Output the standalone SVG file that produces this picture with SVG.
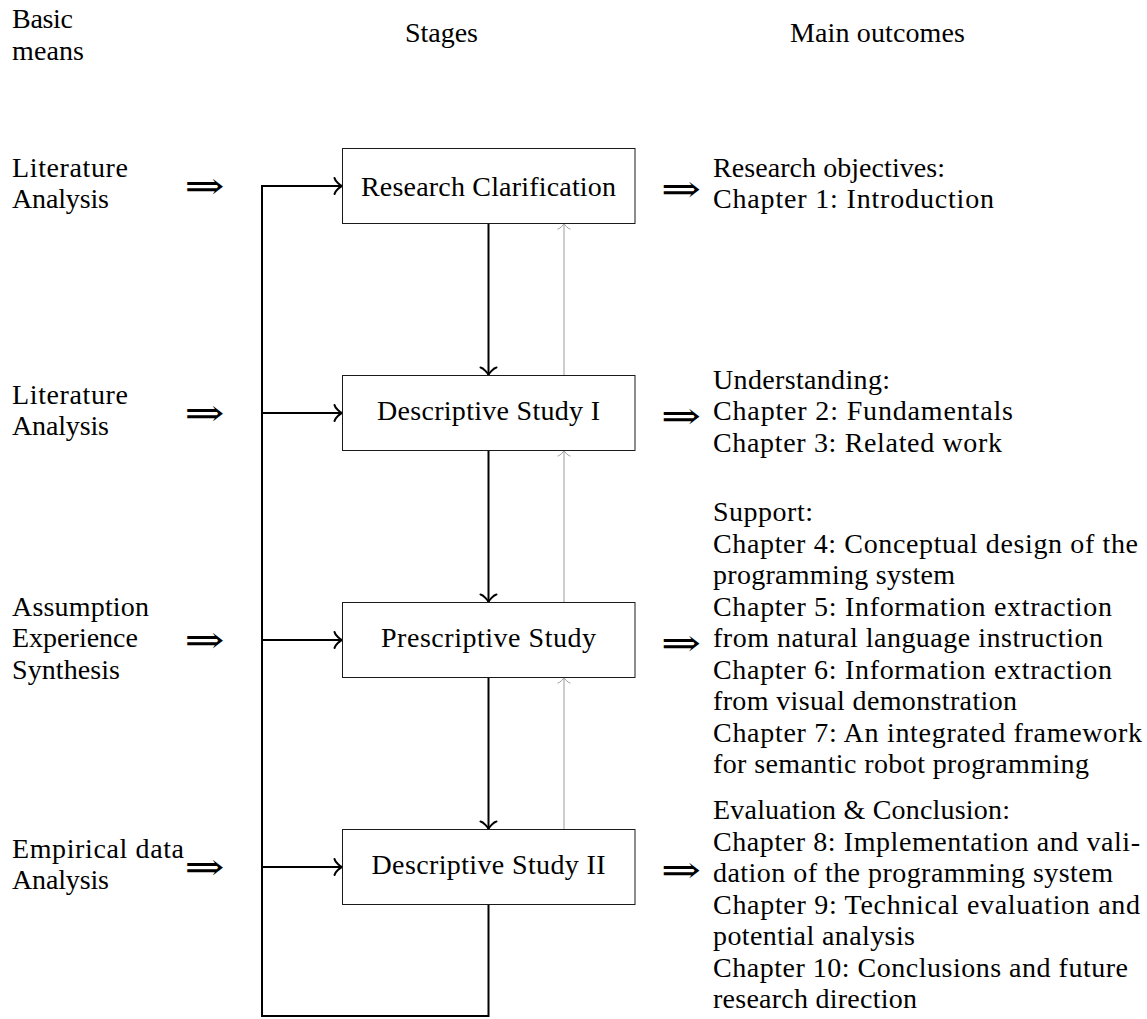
<svg xmlns="http://www.w3.org/2000/svg" width="1147" height="1019" viewBox="0 0 1147 1019">
  <defs>
    <!-- curved "to" arrowheads -->
    <marker id="to" viewBox="-8 -10 11 20" markerWidth="11" markerHeight="20" refX="1.5" refY="0" orient="auto" markerUnits="userSpaceOnUse" overflow="visible">
      <path d="M -6 8 C -5.5 5 0 0.5 1.5 0 C 0 -0.5 -5.5 -5 -6 -8" fill="none" stroke="#000" stroke-width="2" stroke-linecap="round" stroke-linejoin="round"/>
    </marker>
    <marker id="toGray" viewBox="-6 -8 8 16" markerWidth="8" markerHeight="16" refX="1.1" refY="0" orient="auto" markerUnits="userSpaceOnUse" overflow="visible">
      <path d="M -4.5 6 C -4.1 3.75 0 0.4 1.1 0 C 0 -0.4 -4.1 -3.75 -4.5 -6" fill="none" stroke="#9c9c9c" stroke-width="1" stroke-linecap="round" stroke-linejoin="round"/>
    </marker>
  </defs>
  <style>
    text { font-family: "Liberation Serif", "Times New Roman", serif; font-size: 28px; fill: #000; }
    .mid { text-anchor: middle; }
    .imp { font-family: "DejaVu Serif", serif; font-size: 38px; }
    .box { fill: #fff; stroke: #1a1a1a; stroke-width: 1; }
    .flow { fill: none; stroke: #000; stroke-width: 2; marker-end: url(#to); }
    .loop { fill: none; stroke: #000; stroke-width: 2; stroke-linejoin: miter; marker-end: url(#to); }
    .back { fill: none; stroke: #9c9c9c; stroke-width: 1; marker-end: url(#toGray); }
  </style>
  <rect width="1147" height="1019" fill="#fff"/>

  <!-- column headers -->
  <g id="headers">
    <text x="12" y="28" textLength="61">Basic</text>
    <text x="12" y="60" textLength="72">means</text>
    <text x="405" y="42" textLength="73">Stages</text>
    <text x="790" y="42" textLength="175">Main outcomes</text>
  </g>

  <!-- connectors -->
  <g id="connectors">
    <!-- feedback loop from the last stage back to the first -->
    <path class="loop" d="M 488.5 905 V 1016 H 262 V 186 H 342"/>
    <path class="flow" d="M 262 413 H 342"/>
    <path class="flow" d="M 262 640 H 342"/>
    <path class="flow" d="M 262 867 H 342"/>
    <!-- forward stage transitions -->
    <path class="flow" d="M 488.5 223.5 V 375"/>
    <path class="flow" d="M 488.5 450.5 V 602"/>
    <path class="flow" d="M 488.5 677.5 V 829"/>
    <!-- iteration back to the previous stage -->
    <path class="back" d="M 564 375 V 223.5"/>
    <path class="back" d="M 564 602 V 450.5"/>
    <path class="back" d="M 564 829 V 677.5"/>
  </g>

  <!-- stages -->
  <g id="stage-research-clarification">
    <rect class="box" x="342.5" y="148.5" width="292.5" height="75"/>
    <text class="mid" x="488.5" y="195.5" textLength="255">Research Clarification</text>
  </g>
  <g id="stage-descriptive-study-1">
    <rect class="box" x="342.5" y="375.5" width="292.5" height="75"/>
    <text class="mid" x="488.5" y="420" textLength="223">Descriptive Study I</text>
  </g>
  <g id="stage-prescriptive-study">
    <rect class="box" x="342.5" y="602.5" width="292.5" height="75"/>
    <text class="mid" x="488.5" y="647" textLength="215">Prescriptive Study</text>
  </g>
  <g id="stage-descriptive-study-2">
    <rect class="box" x="342.5" y="829.5" width="292.5" height="75"/>
    <text class="mid" x="488.5" y="874" textLength="234">Descriptive Study II</text>
  </g>

  <!-- basic means -->
  <g id="means-1">
    <text x="12" y="176.5" textLength="116">Literature</text>
    <text x="12" y="208" textLength="97">Analysis</text>
    <text class="imp mid" x="204.5" y="199" textLength="40" lengthAdjust="spacingAndGlyphs">⇒</text>
  </g>
  <g id="means-2">
    <text x="12" y="403.5" textLength="116">Literature</text>
    <text x="12" y="435" textLength="97">Analysis</text>
    <text class="imp mid" x="204.5" y="426" textLength="40" lengthAdjust="spacingAndGlyphs">⇒</text>
  </g>
  <g id="means-3">
    <text x="12" y="615.5" textLength="137">Assumption</text>
    <text x="12" y="647" textLength="126">Experience</text>
    <text x="12" y="678.5" textLength="108">Synthesis</text>
    <text class="imp mid" x="204.5" y="653" textLength="40" lengthAdjust="spacingAndGlyphs">⇒</text>
  </g>
  <g id="means-4">
    <text x="12" y="857.5" textLength="172">Empirical data</text>
    <text x="12" y="889" textLength="97">Analysis</text>
    <text class="imp mid" x="204.5" y="880" textLength="40" lengthAdjust="spacingAndGlyphs">⇒</text>
  </g>

  <!-- main outcomes -->
  <g id="outcome-1">
    <text class="imp mid" x="681" y="202" textLength="40" lengthAdjust="spacingAndGlyphs">⇒</text>
    <text x="713" y="176.5" textLength="232">Research objectives:</text>
    <text x="713" y="208" textLength="281">Chapter 1: Introduction</text>
  </g>
  <g id="outcome-2">
    <text class="imp mid" x="681" y="429" textLength="40" lengthAdjust="spacingAndGlyphs">⇒</text>
    <text x="713" y="388.5" textLength="177">Understanding:</text>
    <text x="713" y="420" textLength="300">Chapter 2: Fundamentals</text>
    <text x="713" y="451.5" textLength="289">Chapter 3: Related work</text>
  </g>
  <g id="outcome-3">
    <text class="imp mid" x="681" y="656" textLength="40" lengthAdjust="spacingAndGlyphs">⇒</text>
    <text x="713" y="521" textLength="100">Support:</text>
    <text x="713" y="552.5" textLength="425">Chapter 4: Conceptual design of the</text>
    <text x="713" y="584" textLength="242">programming system</text>
    <text x="713" y="615.5" textLength="399">Chapter 5: Information extraction</text>
    <text x="713" y="647" textLength="390">from natural language instruction</text>
    <text x="713" y="678.5" textLength="399">Chapter 6: Information extraction</text>
    <text x="713" y="710" textLength="304">from visual demonstration</text>
    <text x="713" y="741.5" textLength="429">Chapter 7: An integrated framework</text>
    <text x="713" y="773" textLength="376">for semantic robot programming</text>
  </g>
  <g id="outcome-4">
    <text class="imp mid" x="681" y="883" textLength="40" lengthAdjust="spacingAndGlyphs">⇒</text>
    <text x="713" y="819" textLength="297">Evaluation &amp; Conclusion:</text>
    <text x="713" y="850.5" textLength="427">Chapter 8: Implementation and vali-</text>
    <text x="713" y="882" textLength="400">dation of the programming system</text>
    <text x="713" y="913.5" textLength="427">Chapter 9: Technical evaluation and</text>
    <text x="713" y="945" textLength="202">potential analysis</text>
    <text x="713" y="976.5" textLength="415">Chapter 10: Conclusions and future</text>
    <text x="713" y="1008" textLength="204">research direction</text>
  </g>
</svg>
